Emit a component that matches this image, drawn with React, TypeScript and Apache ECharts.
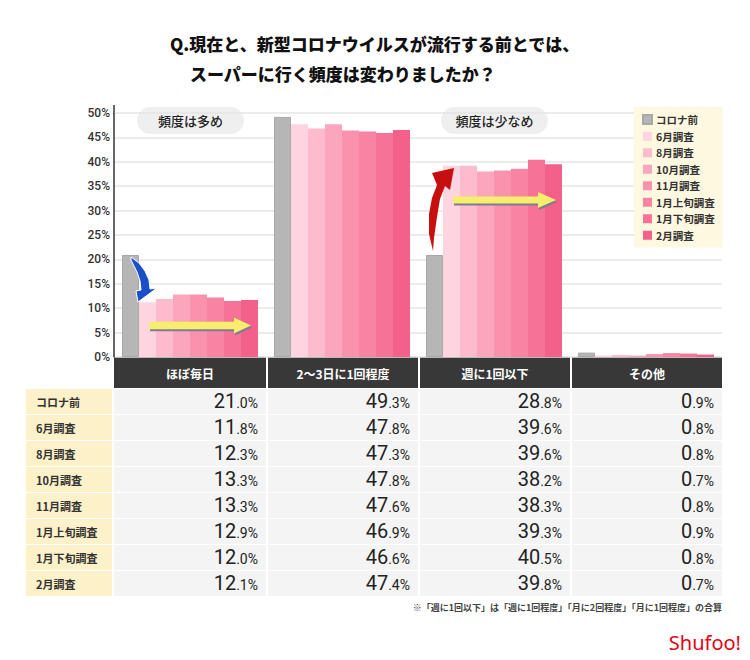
import React, { useEffect, useRef } from 'react';
import * as echarts from 'echarts';

const categories = ['ほぼ毎日', '2〜3日に1回程度', '週に1回以下', 'その他'];
const surveys = ['コロナ前', '6月調査', '8月調査', '10月調査', '11月調査', '1月上旬調査', '1月下旬調査', '2月調査'];
const colors = ['#b6b6b6', '#fdd4df', '#fcbccd', '#fba6bc', '#f993ad', '#f884a1', '#f67296', '#f3608a'];

// bar heights as drawn in the chart (%)
const barCorona = [20.9, 49.2, 20.9, 0.9];
const barJun = [11.2, 47.7, 39.2, 0.3];
const barAug = [11.9, 46.8, 39.2, 0.4];
const barOct = [12.8, 47.7, 38.0, 0.3];
const barNov = [12.8, 46.4, 38.2, 0.6];
const barJanEarly = [12.2, 46.2, 38.6, 0.8];
const barJanLate = [11.5, 45.9, 40.4, 0.7];
const barFeb = [11.7, 46.5, 39.5, 0.5];
const barValues = [barCorona, barJun, barAug, barOct, barNov, barJanEarly, barJanLate, barFeb];

// table values (text)
const tblCorona = ['21.0', '49.3', '28.8', '0.9'];
const tblJun = ['11.8', '47.8', '39.6', '0.8'];
const tblAug = ['12.3', '47.3', '39.6', '0.8'];
const tblOct = ['13.3', '47.8', '38.2', '0.7'];
const tblNov = ['13.3', '47.6', '38.3', '0.8'];
const tblJanEarly = ['12.9', '46.9', '39.3', '0.9'];
const tblJanLate = ['12.0', '46.6', '40.5', '0.8'];
const tblFeb = ['12.1', '47.4', '39.8', '0.7'];
const tableValues = [tblCorona, tblJun, tblAug, tblOct, tblNov, tblJanEarly, tblJanLate, tblFeb];

const titleLine1 = 'Q.現在と、新型コロナウイルスが流行する前とでは、';
const titleLine2 = 'スーパーに行く頻度は変わりましたか？';
const footnote = '※「週に1回以下」は「週に1回程度」「月に2回程度」「月に1回程度」の合算';
const noteMore = '頻度は多め';
const noteLess = '頻度は少なめ';

const JP = '"Noto Sans CJK JP", "Noto Sans", sans-serif';

function yellowArrow(x0: number, yc: number, xb: number, xt: number, sh: number, hh: number) {
  const pts = [
    [x0, yc - sh], [xb, yc - sh], [xb, yc - hh], [xt, yc], [xb, yc + hh], [xb, yc + sh], [x0, yc + sh],
  ];
  return [
    { type: 'polygon', shape: { points: pts.map(p => [p[0] + 1, p[1] + 2]) }, style: { fill: '#7f7b93' } },
    { type: 'polygon', shape: { points: pts }, style: { fill: '#f6ee6c' } },
  ];
}

export default function App() {
  const ref = useRef<HTMLDivElement>(null);
  useEffect(() => {
    const chart = echarts.init(ref.current!, null, { renderer: 'svg' });
    const ctx = document.createElement('canvas').getContext('2d')!;
    ctx.font = '14px Roboto';
    const G: any[] = [];
    G.push({ type: 'text', x: 170, y: 43, style: { text: titleLine1, fontSize: 17, fontWeight: 900, fontFamily: JP, fill: '#111', textVerticalAlign: 'middle', verticalAlign: 'middle' } });
    G.push({ type: 'text', x: 190, y: 73, style: { text: titleLine2, fontSize: 17, fontWeight: 900, fontFamily: JP, fill: '#111', textVerticalAlign: 'middle', verticalAlign: 'middle' } });
    // axis extension
    G.push({ type: 'line', shape: { x1: 114, y1: 105, x2: 114, y2: 114 }, style: { stroke: '#333', lineWidth: 1.5 } });
    // pills
    const pill = (x: number, w: number, t: string) => {
      G.push({ type: 'rect', shape: { x, y: 107, width: w, height: 27, r: 13.5 }, style: { fill: '#efefef' } });
      G.push({ type: 'text', x: x + w / 2, y: 120.5, style: { text: t, fontSize: 13, fontWeight: 500, fontFamily: JP, fill: '#222', textAlign: 'center', align: 'center', textVerticalAlign: 'middle', verticalAlign: 'middle' } });
    };
    pill(137, 107, noteMore);
    pill(441, 107, noteLess);
    // blue arrow
    G.push({ type: 'polygon', shape: { points: [[131, 257], [139, 263], [145, 271], [149, 280], [150, 289], [157, 288], [138, 302], [136, 291], [141, 290], [140, 281], [137, 272], [131, 260]] }, style: { fill: '#1a4fc9', stroke: '#ffffff', lineWidth: 1 }, z: 100 });
    // red arrow
    G.push({ type: 'polygon', shape: { points: [[433, 251], [429, 234], [429, 214], [432, 198], [437, 185], [432, 173], [454, 168], [450, 190], [445, 186], [440, 199], [437, 217], [434, 238]] }, style: { fill: '#c80f0f' }, z: 100 });
    yellowArrow(149, 325.5, 234, 251, 3.8, 8).forEach(e => G.push({ ...e, z: 100 }));
    yellowArrow(453, 200, 538, 556, 3.4, 8).forEach(e => G.push({ ...e, z: 100 }));
    // header cells
    const cellX = (i: number) => 114 + 152 * i + (i === 0 ? 0 : 2);
    const cellW = (i: number) => (i === 0 ? 152 : 150);
    categories.forEach((c, i) => {
      G.push({ type: 'rect', shape: { x: cellX(i), y: 357, width: cellW(i), height: 31 }, style: { fill: '#383838' } });
      G.push({ type: 'text', x: cellX(i) + cellW(i) / 2, y: 373, style: { text: c, fontSize: 12, fontWeight: 'bold', fontFamily: JP, fill: '#fff', textAlign: 'center', align: 'center', textVerticalAlign: 'middle', verticalAlign: 'middle' } });
    });
    // table rows
    surveys.forEach((s, r) => {
      const y = 389 + 26 * r;
      G.push({ type: 'rect', shape: { x: 26, y, width: 86, height: 25 }, style: { fill: '#fdf1c9' } });
      G.push({ type: 'text', x: 36, y: y + 12.5, style: { text: s, fontSize: 11, fontWeight: 'bold', fontFamily: JP, fill: '#333', textVerticalAlign: 'middle', verticalAlign: 'middle' } });
      tableValues[r].forEach((v, i) => {
        G.push({ type: 'rect', shape: { x: cellX(i), y, width: cellW(i), height: 25 }, style: { fill: '#f4f4f4' } });
        const [ip, dp] = v.split('.');
        const dec = `.${dp}%`;
        const right = cellX(i) + cellW(i) - 8;
        const dw = ctx.measureText(dec).width || 20;
        G.push({ type: 'text', x: right, y: y + 20.5, style: { text: dec, fontSize: 14, fontFamily: 'Roboto', fill: '#222', textAlign: 'right', align: 'right', textVerticalAlign: 'bottom', verticalAlign: 'bottom' } });
        G.push({ type: 'text', x: right - dw, y: y + 22, style: { text: ip, fontSize: 20, fontFamily: 'Roboto', fill: '#222', textAlign: 'right', align: 'right', textVerticalAlign: 'bottom', verticalAlign: 'bottom' } });
      });
    });
    G.push({ type: 'text', x: 722, y: 607, style: { text: footnote, fontSize: 9, fontWeight: 'bold', fontFamily: JP, fill: '#444', textAlign: 'right', align: 'right', textVerticalAlign: 'middle', verticalAlign: 'middle' } });
    G.push({ type: 'text', x: 741, y: 642, style: { text: 'Shufoo!', fontSize: 20, fontFamily: '"Noto Sans", sans-serif', fill: '#e60012', textAlign: 'right', align: 'right', textVerticalAlign: 'middle', verticalAlign: 'middle' } });

    chart.setOption({
      animation: false,
      backgroundColor: '#fff',
      textStyle: { fontFamily: JP },
      grid: { left: 114, right: 28, top: 113, bottom: 303, containLabel: false },
      legend: {
        data: surveys, orient: 'vertical', left: 634, top: 107, itemWidth: 9, itemHeight: 9, itemGap: 6,
        padding: [7, 8, 7, 8], backgroundColor: '#fff8e1', icon: 'rect',
        textStyle: { fontSize: 10.5, fontWeight: 'bold', color: '#333', fontFamily: JP, padding: [0, 0, 0, -1] },
      },
      xAxis: { type: 'category', data: categories, axisLabel: { show: false }, axisLine: { show: false }, axisTick: { show: false } },
      yAxis: {
        type: 'value', min: 0, max: 50, interval: 5,
        axisLine: { show: true, lineStyle: { color: '#333', width: 1.5 } },
        axisTick: { show: false },
        axisLabel: { formatter: '{value}%', fontSize: 12, fontFamily: 'Roboto', fontWeight: 500, color: '#333', margin: 4 },
        splitLine: { lineStyle: { color: '#e4e4e4', width: 1.5 } },
      },
      series: surveys.map((s, k) => ({
        name: s, type: 'bar', data: barValues[k], barGap: '0%', barCategoryGap: '10.5%',
        itemStyle: k === 0 ? { color: colors[k], borderColor: '#a8a8a8', borderWidth: 1 } : { color: colors[k] },
      })),
      graphic: { elements: G },
    });
    return () => chart.dispose();
  }, []);
  return <div ref={ref} style={{ position: 'absolute', left: 0, top: 0, width: 750, height: 660 }} />;
}
